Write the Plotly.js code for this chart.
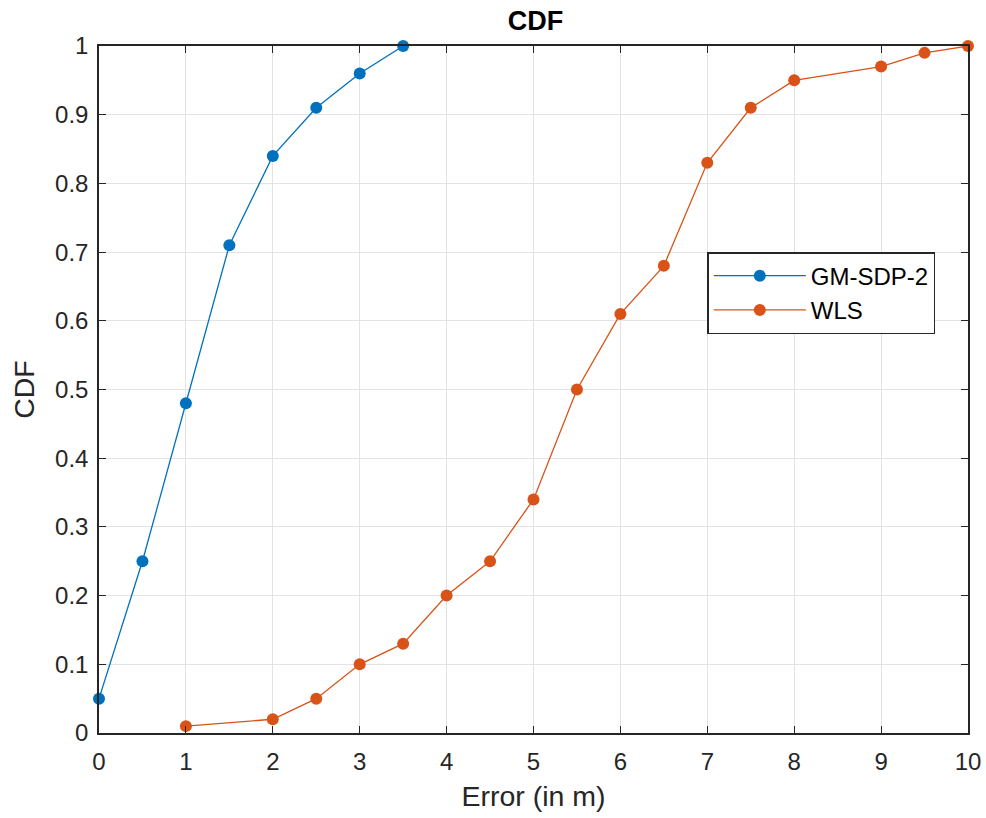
<!DOCTYPE html>
<html><head><meta charset="utf-8">
<script src="https://cdn.plot.ly/plotly-3.0.1.min.js"></script>
<style>body{margin:0;background:#fff}#c{width:986px;height:818px}</style>
</head><body><div id="c"></div>
<script>
const gmX = [0, 0.5, 1, 1.5, 2, 2.5, 3, 3.5];
const gmY = [0.05, 0.25, 0.48, 0.71, 0.84, 0.91, 0.96, 1.0];
const wlsX = [1, 2, 2.5, 3, 3.5, 4, 4.5, 5, 5.5, 6, 6.5, 7, 7.5, 8, 9, 9.5, 10];
const wlsY = [0.01, 0.02, 0.05, 0.10, 0.13, 0.20, 0.25, 0.34, 0.50, 0.61, 0.68, 0.83, 0.91, 0.95, 0.97, 0.99, 1.0];
const xTicks = [0,1,2,3,4,5,6,7,8,9,10];
const yTicks = [0,0.1,0.2,0.3,0.4,0.5,0.6,0.7,0.8,0.9,1];
const yTickText = ['0','0.1','0.2','0.3','0.4','0.5','0.6','0.7','0.8','0.9','1'];
const FONT = 'Liberation Sans, Arial, sans-serif';

const traces = [
 {x: gmX, y: gmY, name: 'GM-SDP-2', mode: 'lines+markers', cliponaxis:false, line:{color:'#0072BD', width:1.3}, marker:{color:'#0072BD', size:12}},
 {x: wlsX, y: wlsY, name: 'WLS', mode: 'lines+markers', cliponaxis:false, line:{color:'#D95319', width:1.3}, marker:{color:'#D95319', size:12}}
];
const axBase = {
  showline:true, linecolor:'#262626', linewidth:1.5, mirror:'ticks',
  ticks:'inside', ticklen:7, tickcolor:'#262626', tickwidth:1,
  showgrid:true, gridcolor:'#e3e3e3', gridwidth:1, zeroline:false,
  tickfont:{family:FONT, size:24, color:'#262626'}
};
const layout = {
  width:986, height:818,
  margin:{l:99, r:18, t:46, b:85},
  paper_bgcolor:'#fff', plot_bgcolor:'#fff',
  title:{text:'<b>CDF</b>', x:0.543, xanchor:'center', yref:'container', y:0.975, yanchor:'middle', font:{family:FONT, size:27, color:'#000'}},
  xaxis: Object.assign({}, axBase, {range:[0,10], tickvals:xTicks, ticktext:xTicks.map(String), ticklabelstandoff:6,
    title:{text:'Error (in m)', standoff:13, font:{family:FONT, size:28.5, color:'#262626'}}}),
  yaxis: Object.assign({}, axBase, {range:[0,1], tickvals:yTicks, ticktext:yTickText, ticklabelstandoff:4,
    title:{text:'CDF', standoff:12, font:{family:FONT, size:28.5, color:'#262626'}}}),
  showlegend:true,
  legend:{x:0.70, y:0.70, xanchor:'left', yanchor:'top', bgcolor:'#fff', bordercolor:'#262626', borderwidth:1.5,
    font:{family:FONT, size:24, color:'#000'}, tracegroupgap:0, itemwidth:92}
};
Plotly.newPlot('c', traces, layout, {displayModeBar:false});
</script></body></html>
